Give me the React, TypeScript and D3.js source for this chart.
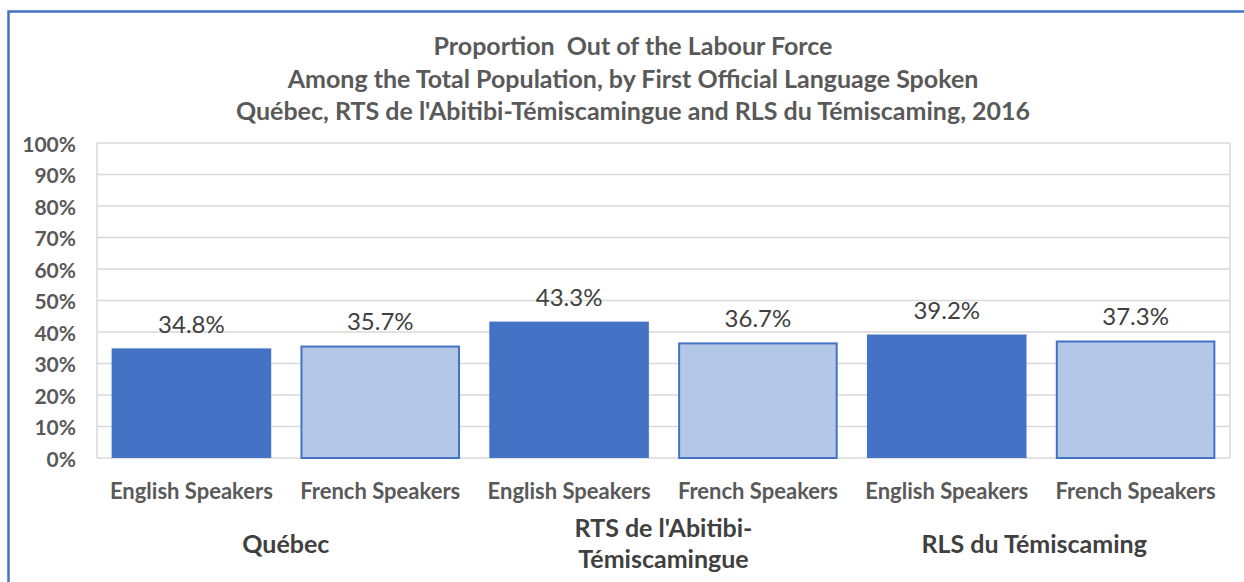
import React from "react";
import * as d3 from "d3";

const titleLines = [
  "Proportion  Out of the Labour Force",
  "Among the Total Population, by First Official Language Spoken",
  "Québec, RTS de l'Abitibi-Témiscamingue and RLS du Témiscaming, 2016",
];
const regions = ["Québec", "RTS de l'Abitibi-Témiscamingue", "RLS du Témiscaming"];
const regionLabelLines = [["Québec"], ["RTS de l'Abitibi-", "Témiscamingue"], ["RLS du Témiscaming"]];
const speakers = ["English Speakers", "French Speakers"];
const values = [34.8, 35.7, 43.3, 36.7, 39.2, 37.3];
const yTicks = [0, 10, 20, 30, 40, 50, 60, 70, 80, 90, 100];

const W = 1244;
const H = 582;
const margin = { top: 143, right: 14, bottom: 124, left: 97 };
const FONT = "Lato, 'Open Sans', sans-serif";
const dark = "#4472C4";
const light = "#B4C7E7";
const textGrey = "#595959";

export default function App() {
  const rows = regions.flatMap((r, i) =>
    speakers.map((s, j) => ({ key: `${i}-${j}`, region: r, speaker: s, value: values[i * 2 + j], j }))
  );

  const x = d3
    .scaleBand()
    .domain(rows.map((d) => d.key))
    .range([margin.left, W - margin.right])
    .paddingInner(0.155)
    .paddingOuter(0.0775);
  const step = x.step();
  const y = d3.scaleLinear().domain([0, 100]).range([H - margin.bottom, margin.top]);

  return (
    <svg width={W} height={H} style={{ position: "absolute", left: 0, top: 0, background: "#fff" }}>
      {/* chart frame */}
      <rect x={8.5} y={11.5} width={W + 20} height={H + 20} fill="none" stroke={dark} strokeWidth={2.5} />

      {titleLines.map((t, i) => (
        <text
          key={i}
          x={633}
          y={45 + i * 32.5}
          textAnchor="middle"
          dominantBaseline="central"
          fontFamily={FONT}
          fontWeight="bold"
          fontSize={25}
          fill={textGrey}
          style={{ whiteSpace: "pre" }}
        >
          {t}
        </text>
      ))}

      {/* gridlines */}
      {yTicks.map((t) => (
        <line
          key={t}
          x1={margin.left}
          x2={W - margin.right}
          y1={y(t)}
          y2={y(t)}
          stroke="#d9d9d9"
          strokeWidth={1.5}
        />
      ))}
      <line x1={margin.left} x2={margin.left} y1={y(0)} y2={y(100)} stroke="#d9d9d9" strokeWidth={1.5} />
      <line x1={W - margin.right} x2={W - margin.right} y1={y(0)} y2={y(100)} stroke="#d9d9d9" strokeWidth={1.5} />

      {/* y tick labels */}
      {yTicks.map((t) => (
        <text
          key={t}
          x={76}
          y={y(t)}
          textAnchor="end"
          dominantBaseline="central"
          fontFamily={FONT}
          fontWeight="bold"
          fontSize={21}
          fill={textGrey}
        >
          {t}%
        </text>
      ))}

      {/* bars */}
      {rows.map((d) => (
        <g key={d.key}>
          {d.j === 0 ? (
            <rect
              x={x(d.key)!}
              y={y(d.value)}
              width={x.bandwidth()}
              height={y(0) - y(d.value)}
              fill={dark}
            />
          ) : (
            <rect
              x={x(d.key)! + 1}
              y={y(d.value) + 1}
              width={x.bandwidth() - 2}
              height={y(0) - y(d.value) - 1}
              fill={light}
              stroke={dark}
              strokeWidth={2}
            />
          )}
          <text
            x={x(d.key)! + x.bandwidth() / 2}
            y={y(d.value) - 25}
            textAnchor="middle"
            dominantBaseline="central"
            fontFamily={FONT}
            fontSize={24}
            fill="#404040"
          >
            {d.value.toFixed(1)}%
          </text>
          <text
            x={x(d.key)! + x.bandwidth() / 2}
            y={490}
            textAnchor="middle"
            dominantBaseline="central"
            fontFamily={FONT}
            fontWeight="bold"
            fontSize={22}
            fill={textGrey}
          >
            {d.speaker}
          </text>
        </g>
      ))}

      {/* region labels (last one sits a little left of its group centre, as in the original) */}
      {regionLabelLines.map((lines, i) => {
        const cx = margin.left + step * (2 * i + 1) - (i === 2 ? 7 : 0);
        const y0 = lines.length === 1 ? 543 : 527;
        return lines.map((l, k) => (
          <text
            key={`${i}-${k}`}
            x={cx}
            y={y0 + k * 31}
            textAnchor="middle"
            dominantBaseline="central"
            fontFamily={FONT}
            fontWeight="bold"
            fontSize={25}
            fill="#404040"
          >
            {l}
          </text>
        ));
      })}
    </svg>
  );
}
